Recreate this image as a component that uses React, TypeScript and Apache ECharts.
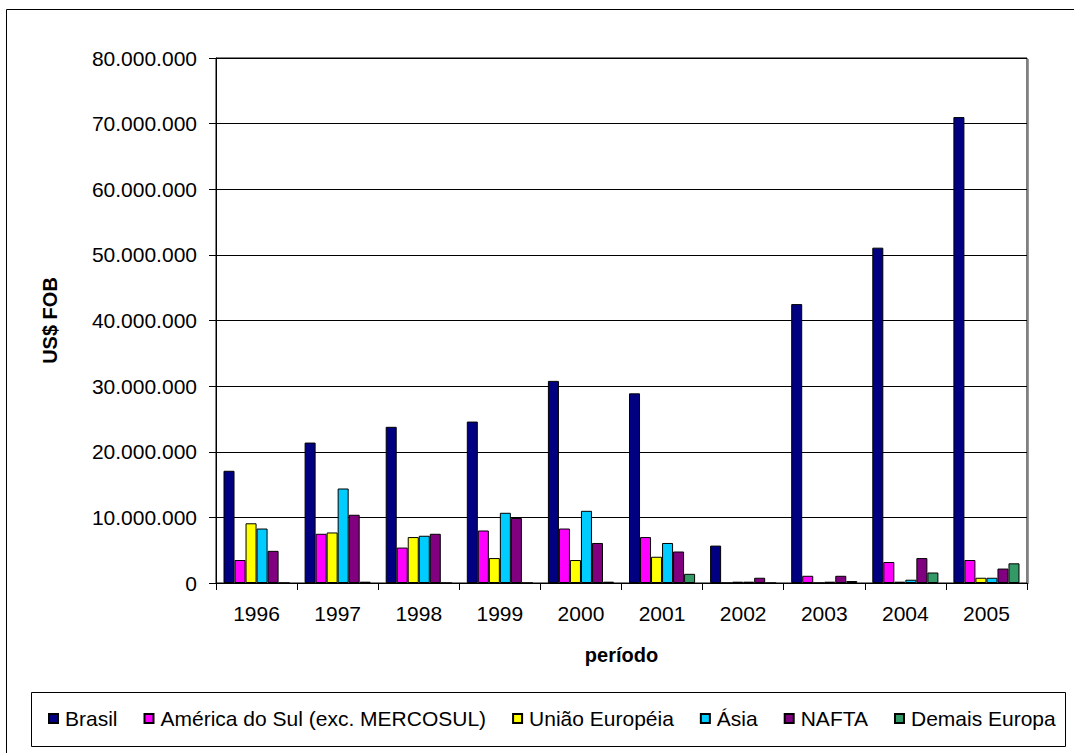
import React, { useEffect, useRef } from "react";
import * as echarts from "echarts";

// Export values by destination (US$ FOB), 1996–2005
const years = ["1996", "1997", "1998", "1999", "2000", "2001", "2002", "2003", "2004", "2005"];
const brasil = [17100000, 21400000, 23800000, 24600000, 30800000, 28900000, 5700000, 42500000, 51100000, 71000000];
const americaDoSul = [3500000, 7500000, 5400000, 8000000, 8300000, 7000000, 0, 1100000, 3200000, 3500000];
const uniaoEuropeia = [9100000, 7700000, 7000000, 3800000, 3500000, 4000000, 200000, 0, 200000, 800000];
const asia = [8300000, 14400000, 7200000, 10700000, 11000000, 6100000, 200000, 200000, 500000, 800000];
const nafta = [4900000, 10400000, 7500000, 9900000, 6100000, 4800000, 800000, 1100000, 3800000, 2200000];
const demaisEuropa = [0, 200000, 0, 0, 200000, 1400000, 0, 300000, 1600000, 3000000];

const seriesDefs = [
  { name: "Brasil", data: brasil, color: "#000080" },
  { name: "América do Sul (exc. MERCOSUL)", data: americaDoSul, color: "#FF00FF" },
  { name: "União Européia", data: uniaoEuropeia, color: "#FFFF00" },
  { name: "Ásia", data: asia, color: "#00CCFF" },
  { name: "NAFTA", data: nafta, color: "#800080" },
  { name: "Demais Europa", data: demaisEuropa, color: "#339966" },
];

const FONT = "'Liberation Sans', Arial, sans-serif";

const formatThousands = (v: number) =>
  String(Math.round(v)).replace(/\B(?=(\d{3})+(?!\d))/g, ".");

export default function App() {
  const ref = useRef<HTMLDivElement>(null);

  useEffect(() => {
    if (!ref.current) return;
    const chart = echarts.init(ref.current, undefined, { renderer: "svg" });

    chart.setOption({
      animation: false,
      backgroundColor: "#ffffff",
      textStyle: { fontFamily: FONT, color: "#000" },
      grid: {
        left: 216,
        top: 58,
        right: 47,
        bottom: 170,
        show: true,
        borderColor: "#000",
        borderWidth: 1,
        backgroundColor: "transparent",
      },
      legend: {
        left: 43,
        top: 703,
        icon: "rect",
        itemWidth: 9,
        itemHeight: 9,
        itemGap: 26,
        textStyle: { fontFamily: FONT, fontSize: 21, color: "#000", padding: [0, 0, 0, 2] },
        data: seriesDefs.map((s) => s.name),
      },
      xAxis: {
        type: "category",
        data: years,
        boundaryGap: true,
        name: "período",
        nameLocation: "middle",
        nameGap: 62,
        nameTextStyle: { fontFamily: FONT, fontSize: 20, fontWeight: "bold", color: "#000" },
        axisLine: { show: true, lineStyle: { color: "#000", width: 1 } },
        axisTick: { show: true, length: 7, alignWithLabel: false, lineStyle: { color: "#000" } },
        axisLabel: { fontFamily: FONT, fontSize: 21, color: "#000", margin: 20 },
        splitLine: { show: false },
      },
      yAxis: {
        type: "value",
        min: 0,
        max: 80000000,
        interval: 10000000,
        name: "US$ FOB",
        nameLocation: "middle",
        nameGap: 156,
        nameRotate: 90,
        nameTextStyle: { fontFamily: FONT, fontSize: 20, fontWeight: "bold", color: "#000" },
        axisLine: { show: true, lineStyle: { color: "#000", width: 1 } },
        axisTick: { show: true, length: 7, lineStyle: { color: "#000" } },
        axisLabel: {
          fontFamily: FONT,
          fontSize: 21,
          color: "#000",
          margin: 19,
          formatter: (v: number) => formatThousands(v),
        },
        splitLine: { show: true, lineStyle: { color: "#000", width: 1 } },
      },
      series: seriesDefs.map((s) => ({
        name: s.name,
        type: "bar",
        data: s.data,
        barGap: "0%",
        barCategoryGap: "18.5%",
        itemStyle: { color: s.color, borderColor: "#000", borderWidth: 1 },
        emphasis: { disabled: true },
      })),
      graphic: [
        {
          type: "rect",
          shape: { x: 6.5, y: 9.5, width: 1200, height: 900 },
          style: { fill: "none", stroke: "#000", lineWidth: 1 },
          silent: true,
        },
        {
          type: "rect",
          shape: { x: 31.5, y: 692.5, width: 1034, height: 54 },
          style: { fill: "none", stroke: "#000", lineWidth: 1 },
          silent: true,
        },
        {
          type: "line",
          shape: { x1: 1028.5, y1: 59, x2: 1028.5, y2: 584 },
          style: { stroke: "#9a9a9a", lineWidth: 1 },
          silent: true,
        },
      ],
    });

    return () => chart.dispose();
  }, []);

  return (
    <div
      ref={ref}
      style={{ position: "fixed", left: 0, top: 0, width: 1074, height: 753, background: "#fff" }}
    />
  );
}
